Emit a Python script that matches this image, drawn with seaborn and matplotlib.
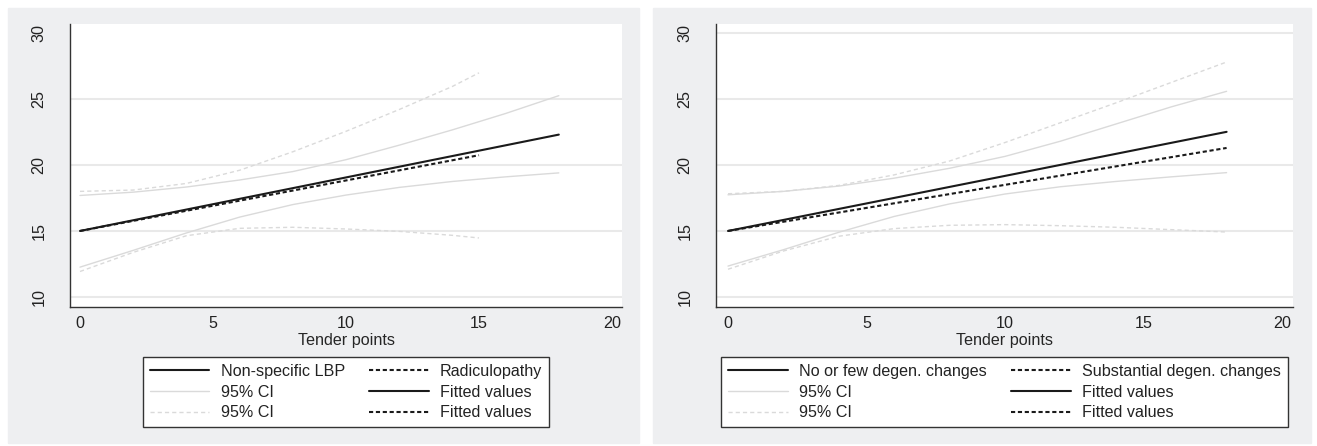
import seaborn as sns
import matplotlib.pyplot as plt
from matplotlib.patches import Rectangle

tender_18 = [0, 2, 4, 6, 8, 10, 12, 14, 16, 18]
tender_15 = [0, 2, 4, 6, 8, 10, 12, 14, 15]

# left panel: Non-specific LBP vs Radiculopathy
lbp_fit_x = [0, 18]
lbp_fit = [15.0, 22.3]
lbp_ci_hi = [17.69, 17.94, 18.33, 18.86, 19.5, 20.4, 21.5, 22.66, 23.9, 25.25]
lbp_ci_lo = [12.26, 13.53, 14.85, 16.05, 17.0, 17.72, 18.3, 18.75, 19.1, 19.4]

rad_fit_x = [0, 15]
rad_fit = [15.0, 20.74]
rad_ci_hi = [18.0, 18.1, 18.6, 19.6, 21.0, 22.55, 24.2, 25.95, 26.98]
rad_ci_lo = [11.93, 13.38, 14.64, 15.2, 15.28, 15.15, 14.97, 14.67, 14.47]

# right panel: No or few vs Substantial degenerative changes
few_fit_x = [0, 18]
few_fit = [15.0, 22.51]
few_ci_hi = [17.74, 18.0, 18.4, 19.0, 19.75, 20.65, 21.8, 23.1, 24.4, 25.58]
few_ci_lo = [12.34, 13.58, 14.9, 16.1, 17.05, 17.8, 18.35, 18.75, 19.1, 19.42]

sub_fit_x = [0, 18]
sub_fit = [15.0, 21.29]
sub_ci_hi = [17.82, 18.0, 18.45, 19.25, 20.3, 21.7, 23.2, 24.7, 26.25, 27.8]
sub_ci_lo = [12.1, 13.48, 14.6, 15.18, 15.43, 15.48, 15.4, 15.28, 15.1, 14.92]

panels = [
    dict(groups=("Non-specific LBP", "Radiculopathy"),
         solid=(lbp_fit_x, lbp_fit, tender_18, lbp_ci_hi, lbp_ci_lo),
         dashed=(rad_fit_x, rad_fit, tender_15, rad_ci_hi, rad_ci_lo)),
    dict(groups=("No or few degen. changes", "Substantial degen. changes"),
         solid=(few_fit_x, few_fit, tender_18, few_ci_hi, few_ci_lo),
         dashed=(sub_fit_x, sub_fit, tender_18, sub_ci_hi, sub_ci_lo)),
]

sns.set_style("white")
plt.rcParams["font.family"] = ["Liberation Sans", "DejaVu Sans"]
plt.rcParams["text.color"] = "#222222"
FS = 11.6

W, H = 1317, 446
fig = plt.figure(figsize=(W / 100, H / 100), dpi=100)

# stata-ish grey panel backgrounds
for x0, x1 in [(8, 639), (653, 1311)]:
    fig.add_artist(Rectangle((x0 / W, 3 / H), (x1 - x0) / W, 435 / H,
                             transform=fig.transFigure, color="#eeeff1", zorder=-5))

# axes boxes in pixels: (left, right), top=24, bottom=307
ax_px = [(70, 622, (-0.376, 20.376)), (716, 1293, (-0.433, 20.397))]
legend_cx = [346, 1004.5]

CI_COL = "#dadada"
FIT_COL = "#1a1a1a"
DASH_FIT = (0, (2.0, 1.3))
DASH_CI = (0, (3.0, 2.2))

for i, (p, (l, r, xl)) in enumerate(zip(panels, ax_px)):
    ax = fig.add_axes([l / W, (H - 307) / H, (r - l) / W, (307 - 24) / H])
    fx, fy, cx, chi, clo = p["solid"]
    dfx, dfy, dcx, dchi, dclo = p["dashed"]

    sns.lineplot(x=cx, y=chi, ax=ax, color=CI_COL, lw=1.0, label="95% CI")
    sns.lineplot(x=cx, y=clo, ax=ax, color=CI_COL, lw=1.0)
    sns.lineplot(x=dcx, y=dchi, ax=ax, color=CI_COL, lw=1.0, linestyle=DASH_CI, label="95% CI ")
    sns.lineplot(x=dcx, y=dclo, ax=ax, color=CI_COL, lw=1.0, linestyle=DASH_CI)
    sns.lineplot(x=fx, y=fy, ax=ax, color=FIT_COL, lw=1.5, label=p["groups"][0])
    sns.lineplot(x=dfx, y=dfy, ax=ax, color=FIT_COL, lw=1.5, linestyle=DASH_FIT, label=p["groups"][1])

    if ax.get_legend() is not None:
        ax.get_legend().remove()

    ax.set_xlim(*xl)
    ax.set_ylim(9.24, 30.68)
    ax.set_xticks([0, 5, 10, 15, 20])
    ax.set_yticks([10, 15, 20, 25, 30])
    ax.yaxis.grid(True, color="#e9e9e9", lw=1.5)
    ax.set_axisbelow(True)
    if i == 0:
        ax.get_ygridlines()[-1].set_visible(False)

    for s in ["top", "right"]:
        ax.spines[s].set_visible(False)
    for s in ["left", "bottom"]:
        ax.spines[s].set_color("#333333")
        ax.spines[s].set_linewidth(1.0)
    ax.tick_params(axis="both", direction="out", length=4.3, width=0.9, color="#444444",
                   labelsize=FS, labelcolor="#222222")
    ax.tick_params(axis="x", pad=2.5)
    ax.tick_params(axis="y", pad=12.5)
    for t in ax.get_yticklabels():
        t.set_rotation(90)
        t.set_va("center")
    ax.set_xlabel("Tender points", fontsize=FS, labelpad=1)
    ax.set_ylabel("")

    hl = {h.get_label(): h for h in ax.get_lines()}
    g1, g2 = p["groups"]
    solid_fit = hl[g1]
    dash_fit = hl[g2]
    handles = [solid_fit, hl["95% CI"], hl["95% CI "], dash_fit, solid_fit, dash_fit]
    labels = [g1, "95% CI", "95% CI", g2, "Fitted values", "Fitted values"]
    leg = fig.legend(handles, labels, loc="upper center",
                     bbox_to_anchor=(legend_cx[i] / W, 1 - 357 / H),
                     ncol=2, fontsize=FS, frameon=True, fancybox=False, shadow=False,
                     framealpha=1, edgecolor="#333333", facecolor="white",
                     handlelength=3.7, handletextpad=0.7, columnspacing=1.5,
                     labelspacing=0.36, borderpad=0.42, borderaxespad=0)
    leg.get_frame().set_linewidth(1.0)

fig.savefig("out.png", dpi=100, facecolor="white")
